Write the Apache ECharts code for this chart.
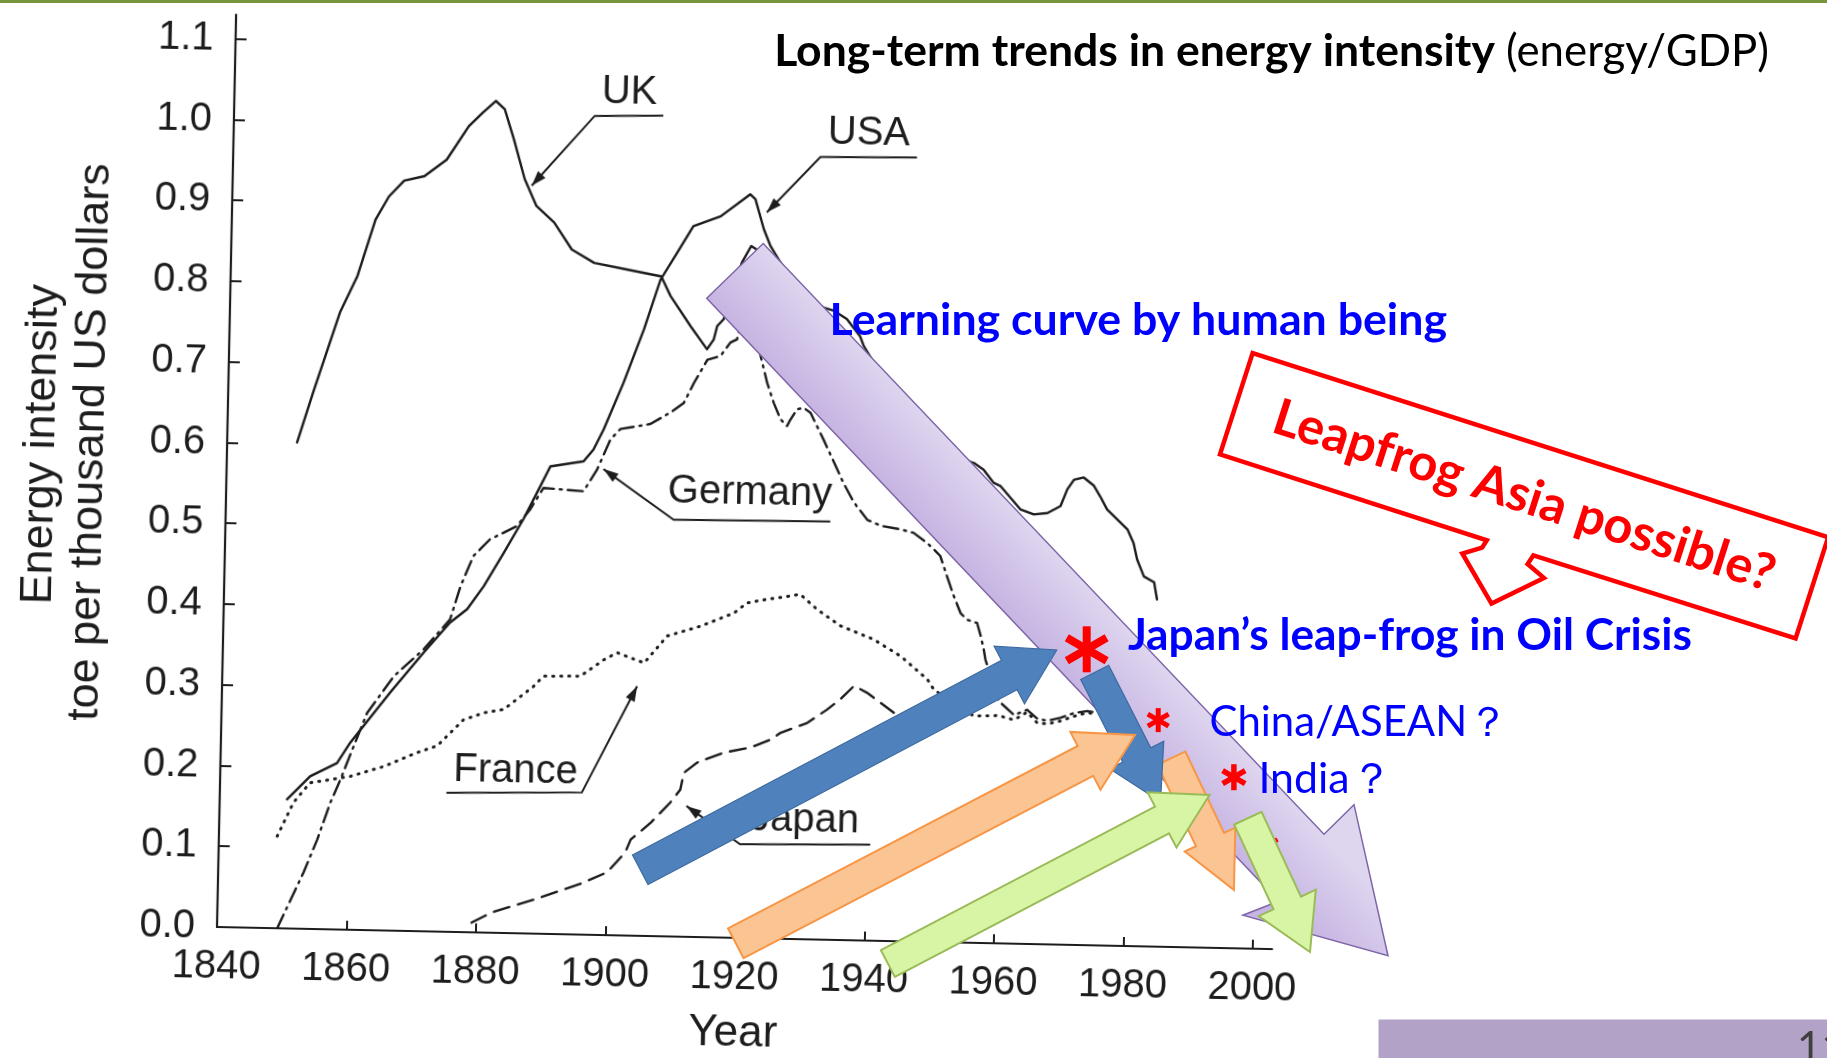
<!DOCTYPE html>
<html>
<head>
<meta charset="utf-8">
<script src="https://cdn.jsdelivr.net/npm/echarts@6/dist/echarts.min.js"></script>
<style>
html, body { margin: 0; padding: 0; background: #fff; overflow: hidden; }
#scan, #notes { position: absolute; left: 0; top: 0; width: 1827px; height: 1058px; }
/* the scanned figure sits slightly skewed on the slide */
#scan { transform-origin: 217px 927px; transform: rotate(1.2deg); }
</style>
</head>
<body>
<div id="scan"></div>
<div id="notes"></div>
<script>
// energy intensity, toe per thousand US dollars, [year, value]
var uk = [[1850.8,0.602],[1853.1,0.664],[1857.0,0.764],[1859.6,0.810],[1862.2,0.880],[1864.2,0.909],[1866.5,0.929],[1869.6,0.935],[1873.0,0.956],[1876.3,0.998],[1878.4,1.015],[1880.4,1.030],[1881.8,1.020],[1883.3,0.983],[1885.1,0.934],[1887.0,0.901],[1889.8,0.881],[1892.6,0.848],[1896.1,0.832],[1900.9,0.825],[1906.5,0.817],[1908.0,0.793],[1911.2,0.756],[1913.8,0.728],[1914.8,0.740],[1915.3,0.757],[1916.3,0.766],[1918.9,0.836],[1920.3,0.857],[1921.5,0.851],[1925,0.79],[1930,0.74],[1935,0.70],[1940,0.66],[1945,0.62],[1950,0.58],[1955,0.535],[1960,0.49],[1965,0.45],[1970,0.41],[1975,0.37],[1980,0.33],[1983,0.30]];
var usa = [[1850.4,0.160],[1853.9,0.189],[1858.0,0.206],[1860.0,0.232],[1866.0,0.295],[1871.0,0.345],[1875.0,0.383],[1877.6,0.400],[1880.1,0.429],[1883.1,0.471],[1886.0,0.513],[1888.5,0.554],[1890.0,0.579],[1895.1,0.586],[1896.6,0.601],[1898.1,0.626],[1901.0,0.684],[1904.0,0.751],[1906.4,0.813],[1908.9,0.847],[1911.3,0.880],[1915.5,0.893],[1920.0,0.921],[1920.8,0.915],[1922.2,0.878],[1923.3,0.857],[1927,0.81],[1930.5,0.785],[1933.3,0.779],[1935.3,0.769],[1937.4,0.748],[1938.0,0.736],[1942,0.685],[1946,0.65],[1950,0.62],[1953,0.60],[1955.4,0.594],[1956.9,0.586],[1958.5,0.570],[1959.6,0.566],[1962.7,0.538],[1964.8,0.532],[1966.9,0.534],[1968.9,0.543],[1969.9,0.564],[1970.9,0.576],[1972.4,0.579],[1974.0,0.569],[1975.0,0.556],[1976.1,0.540],[1977.7,0.528],[1979.3,0.516],[1980.3,0.499],[1980.9,0.479],[1982.0,0.458],[1983.6,0.451],[1984.1,0.430]];
var germany = [[1849.3,0.0],[1853.2,0.070],[1855.2,0.111],[1857.1,0.157],[1858.6,0.186],[1860.5,0.227],[1862.5,0.269],[1866.5,0.315],[1871.0,0.349],[1875.0,0.387],[1876.5,0.428],[1878.4,0.466],[1880.9,0.487],[1885.0,0.504],[1887.0,0.525],[1889.0,0.552],[1895.2,0.549],[1897.2,0.576],[1899.2,0.614],[1900.7,0.627],[1905.3,0.634],[1908.4,0.649],[1910.4,0.661],[1911.9,0.686],[1913.9,0.715],[1915.9,0.720],[1917.4,0.737],[1918.4,0.741],[1919.5,0.775],[1920.5,0.78],[1921.3,0.76],[1922.1,0.721],[1923.2,0.688],[1924.3,0.663],[1925.4,0.643],[1926.4,0.635],[1926.9,0.643],[1927.9,0.656],[1928.9,0.658],[1930.0,0.652],[1930.5,0.644],[1932.1,0.619],[1933.8,0.591],[1935.3,0.566],[1937.0,0.542],[1939.1,0.521],[1941.2,0.514],[1944.3,0.510],[1946.3,0.506],[1948.4,0.494],[1949.5,0.486],[1950.5,0.478],[1951.6,0.453],[1952.7,0.429],[1953.8,0.408],[1954.8,0.400],[1956.4,0.396],[1957.0,0.380],[1957.5,0.364],[1957.8,0.351],[1960,0.30],[1962.4,0.283],[1964.4,0.29],[1966,0.279],[1967.6,0.277],[1969.6,0.281],[1971.6,0.287],[1973.7,0.29],[1974.5,0.289]];
var france = [[1849.0,0.114],[1851.4,0.156],[1853.9,0.181],[1857.5,0.186],[1860.1,0.190],[1865.2,0.203],[1870.3,0.221],[1873.4,0.230],[1877.4,0.263],[1880.5,0.272],[1883.6,0.277],[1888.1,0.306],[1889.6,0.319],[1895.3,0.320],[1898.9,0.341],[1900.9,0.350],[1905.1,0.338],[1908.6,0.372],[1913.7,0.385],[1918.8,0.402],[1920.8,0.415],[1923.9,0.420],[1927.0,0.424],[1929.0,0.427],[1931.6,0.409],[1935.3,0.389],[1940.5,0.373],[1944.7,0.353],[1948.9,0.325],[1949.9,0.313],[1953,0.295],[1956.2,0.281],[1960,0.282],[1962.4,0.277],[1964.4,0.287],[1966.0,0.274],[1967.6,0.273],[1969.6,0.277],[1971.6,0.283],[1973.7,0.288],[1974.5,0.287]];
var japan = [[1879.3,0.012],[1882.3,0.025],[1889.2,0.043],[1896.0,0.063],[1900.1,0.078],[1902.8,0.103],[1903.6,0.119],[1906.6,0.140],[1909.6,0.166],[1911.1,0.182],[1911.6,0.203],[1913.6,0.216],[1917.7,0.229],[1921.8,0.236],[1924.8,0.246],[1926.4,0.255],[1930.5,0.268],[1933.5,0.285],[1935.5,0.298],[1937.6,0.315],[1939.6,0.307],[1941.7,0.295],[1943.8,0.283],[1946,0.262],[1950,0.28],[1955,0.30],[1960,0.325],[1963,0.355],[1966,0.358],[1968.5,0.355],[1972,0.33],[1975,0.30],[1978,0.28],[1981,0.26],[1984,0.24]];

var yearTicks = [1840, 1860, 1880, 1900, 1920, 1940, 1960, 1980, 2000];
var valueTicks = [0, 0.1, 0.2, 0.3, 0.4, 0.5, 0.6, 0.7, 0.8, 0.9, 1.0, 1.1];

var ink = '#1d1d1d';
var scanFont = "'Liberation Sans', Arial, sans-serif";

function country(name, data, dash, width) {
    return {
        name: name, type: 'line', data: data, symbol: 'none', smooth: false, silent: true,
        lineStyle: { color: ink, width: width || 2.4, type: dash, cap: 'round', join: 'round' }
    };
}

var scan = echarts.init(document.getElementById('scan'));
scan.setOption({
    animation: false,
    grid: { left: 217, right: 554.7, top: 14.5, bottom: 131, containLabel: false, outerBoundsMode: 'none' },
    xAxis: {
        type: 'value', min: 1840, max: 2003,
        axisLine: { show: true, onZero: false, lineStyle: { color: ink, width: 2.2 } },
        axisTick: { show: true, inside: true, length: 9, customValues: yearTicks.slice(1), lineStyle: { color: ink, width: 2 } },
        axisLabel: { customValues: yearTicks, formatter: function (v) { return String(v); }, fontSize: 40, fontFamily: scanFont, color: ink, margin: 20 },
        splitLine: { show: false }
    },
    yAxis: {
        type: 'value', min: 0, max: 1.13,
        axisLine: { show: true, onZero: false, lineStyle: { color: ink, width: 2.2 } },
        axisTick: { show: true, inside: true, length: 11, customValues: valueTicks, lineStyle: { color: ink, width: 2 } },
        axisLabel: { customValues: valueTicks, formatter: function (v) { return v.toFixed(1); }, fontSize: 40, fontFamily: scanFont, color: ink, margin: 22 },
        splitLine: { show: false }
    },
    series: [
        country('UK', uk, 'solid'),
        country('USA', usa, 'solid'),
        country('Germany', germany, [15, 6, 2, 6]),
        country('France', france, [1, 7], 3),
        country('Japan', japan, [16, 9])
    ]
});

// labels of the scanned figure, placed in data coordinates
function px(p) { return scan.convertToPixel({ gridIndex: 0 }, p); }
function scanText(text, at, size, rot) {
    var p = px(at);
    return { type: 'text', x: p[0], y: p[1], rotation: rot || 0, silent: true,
        style: { text: text, fontSize: size, fontFamily: scanFont, fill: ink, align: 'center', verticalAlign: 'middle' } };
}
function leader(points) {
    var pts = points.map(px);
    var a = pts[pts.length - 2], b = pts[pts.length - 1];
    var L = Math.hypot(b[0] - a[0], b[1] - a[1]);
    var ux = (b[0] - a[0]) / L, uy = (b[1] - a[1]) / L;
    var bx = b[0] - ux * 15, by = b[1] - uy * 15;
    return [
        { type: 'polyline', silent: true, shape: { points: pts }, style: { stroke: ink, lineWidth: 2, fill: null } },
        { type: 'polygon', silent: true, shape: { points: [b, [bx - uy * 5, by + ux * 5], [bx + uy * 5, by - ux * 5]] }, style: { fill: ink } }
    ];
}
var callouts = [
    { text: 'UK', at: [1901, 1.044], line: [[1906.3, 1.016], [1895.7, 1.014], [1886.2, 0.926]] },
    { text: 'USA', at: [1938.1, 1.0], line: [[1945.6, 0.971], [1930.7, 0.969], [1922.6, 0.899]] },
    { text: 'Germany', at: [1920.9, 0.551], line: [[1933.4, 0.518], [1909.2, 0.516], [1898.2, 0.577]] },
    { text: 'France', at: [1885.6, 0.201], line: [[1875, 0.172], [1895.9, 0.176], [1904.1, 0.309]] },
    { text: 'Japan', at: [1930.4, 0.148], line: [[1940.6, 0.119], [1920.5, 0.116], [1912.1, 0.162]] }
];
var scanMarks = [];
callouts.forEach(function (c) {
    scanMarks.push(scanText(c.text, c.at, 40));
    scanMarks = scanMarks.concat(leader(c.line));
});
scanMarks.push(scanText('Energy intensity', [1811.3, 0.593], 45, Math.PI / 2));
scanMarks.push(scanText('toe per thousand US dollars', [1819, 0.597], 45, Math.PI / 2));
scanMarks.push(scanText('Year', [1920, -0.119], 44));
scan.setOption({ graphic: { elements: scanMarks } });

// slide annotations drawn on top
var ctx = document.createElement('canvas').getContext('2d');
function fit(text, weight, family, width) {
    ctx.font = weight + ' 100px ' + family;
    return 100 * width / ctx.measureText(text).width;
}
function arrow(tail, tip, sh, hh, hl) {
    var dx = tip[0] - tail[0], dy = tip[1] - tail[1], L = Math.hypot(dx, dy);
    var ux = dx / L, uy = dy / L, nx = -uy, ny = ux;
    var bx = tip[0] - ux * hl, by = tip[1] - uy * hl;
    return [
        [tail[0] + nx * sh, tail[1] + ny * sh], [bx + nx * sh, by + ny * sh], [bx + nx * hh, by + ny * hh],
        tip,
        [bx - nx * hh, by - ny * hh], [bx - nx * sh, by - ny * sh], [tail[0] - nx * sh, tail[1] - ny * sh]
    ];
}
function shape(points, fill, stroke, w) {
    return { type: 'polygon', shape: { points: points }, style: { fill: fill, stroke: stroke, lineWidth: w, lineJoin: 'miter' } };
}
// red asterisk: three crossing bars
function star(c, r, w) {
    return [90, 30, -30].map(function (a) {
        var t = a * Math.PI / 180, x = Math.cos(t) * r, y = Math.sin(t) * r;
        return { type: 'line', shape: { x1: c[0] - x, y1: c[1] - y, x2: c[0] + x, y2: c[1] + y }, style: { stroke: '#FF0000', lineWidth: w } };
    });
}
function words(text, x, y, width, weight, color) {
    return { type: 'text', x: x, y: y,
        style: { text: text, fontFamily: 'Lato', fontWeight: weight, fontSize: fit(text, weight, 'Lato', width),
            fill: color, align: 'left', verticalAlign: 'middle' } };
}

var blue = '#4F81BD', orange = '#FBC593', green = '#D8F4A5';
var notes = [].concat(
    { type: 'rect', shape: { x: 0, y: 0, width: 1827, height: 3 }, style: { fill: '#77933C' } },
    { type: 'text', x: 1769, y: 52,
        style: { text: '{b|Long-term trends in energy intensity}{r| (energy/GDP)}', align: 'right', verticalAlign: 'middle',
            rich: {
                b: { fontFamily: 'Lato', fontWeight: 'bold', fontSize: fit('Long-term trends in energy intensity', 'bold', 'Lato', 721), fill: '#000' },
                r: { fontFamily: 'Lato', fontSize: fit('(energy/GDP)', 'normal', 'Lato', 263), fill: '#000' }
            } } },
    shape([[706.7, 298.3], [763.2, 243.5], [1324.0, 834.3], [1354.0, 804.7], [1388.0, 955.8], [1242.9, 915.2], [1278.6, 901.3]],
        { type: 'linear', x: 706.7, y: 298.3, x2: 763.9, y2: 244.2, global: true,
          colorStops: [{ offset: 0, color: '#C6B4E2' }, { offset: 1, color: '#DED5EF' }] }, '#7F66A9', 1.5),
    shape(arrow([640.3, 869.8], [1056.7, 650.0], 16.7, 32.6, 53.6), blue, '#3E6B9F', 1.2),
    shape(arrow([1171.4, 758.1], [1233.9, 889.9], 15.5, 28, 55.7), orange, '#F79646', 2),
    shape(arrow([1094.7, 672.3], [1160.5, 801.7], 15.7, 30.3, 52.4), blue, '#3E6B9F', 1.2),
    shape(arrow([735.8, 943.2], [1135.0, 735.0], 16.8, 32.6, 55.9), orange, '#F79646', 2),
    star([1268, 845], 11, 4.5),
    shape(arrow([887.9, 963.6], [1209.5, 795.0], 15.1, 31.1, 53.6), green, '#9BBB59', 2),
    shape(arrow([1247.9, 818.2], [1310.0, 952.0], 15.1, 31.5, 54.1), green, '#9BBB59', 2),
    star([1086.7, 649.3], 23, 8),
    star([1158.2, 720.1], 12, 5),
    star([1233.9, 777.2], 13, 5.5),
    shape([[1252.6, 353.1], [1220.0, 454.4], [1486.8, 540.3], [1482.1, 547.6], [1462.3, 553.5], [1491.5, 603.6], [1543.9, 577.9], [1527.6, 564.0], [1533.4, 555.3], [1795.6, 638.5], [1828.2, 537.2]], '#fff', '#FF0000', 4.5),
    { type: 'text', x: 1524, y: 496, rotation: -0.311,
        style: { text: 'Leapfrog Asia possible?', fontFamily: 'Lato', fontWeight: 'bold', fontSize: fit('Leapfrog Asia possible?', 'bold', 'Lato', 524),
            fill: '#FF0000', align: 'center', verticalAlign: 'middle' } },
    words('Learning curve by human being', 829.6, 320.4, 617.6, 'bold', '#0000FF'),
    words('Japan\u2019s leap-frog in Oil Crisis', 1127.9, 636.2, 564, 'bold', '#0000FF'),
    words('China/ASEAN\uFF1F', 1209.5, 722.4, 299.5, 'normal', '#0000FF'),
    words('India\uFF1F', 1258.4, 779.5, 134, 'normal', '#0000FF'),
    { type: 'rect', shape: { x: 1378.5, y: 1019.5, width: 450, height: 40 }, style: { fill: '#B3A2C7' } },
    { type: 'text', x: 1797, y: 1027, style: { text: '11', fontFamily: 'Lato', fontSize: 42, fill: '#3F3F3F', align: 'left', verticalAlign: 'top' } }
);
notes.forEach(function (el, i) { el.z = 100 + i; el.silent = true; });

var overlay = echarts.init(document.getElementById('notes'));
overlay.setOption({ animation: false, graphic: { elements: notes } });
</script>
</body>
</html>
